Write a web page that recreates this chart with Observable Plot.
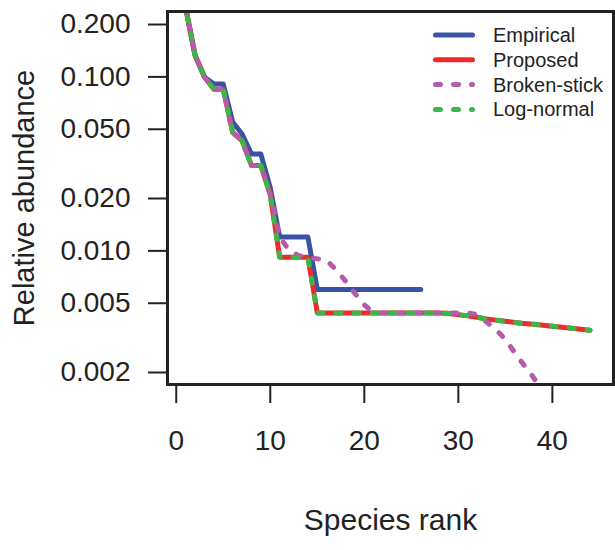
<!DOCTYPE html>
<html>
<head>
<meta charset="utf-8">
<script src="https://cdn.jsdelivr.net/npm/d3@7"></script>
<script src="https://cdn.jsdelivr.net/npm/@observablehq/plot@0.6"></script>
<style>
  body { margin: 0; background: #fff; }
  #wrap { position: relative; width: 615px; height: 550px; }
  #wrap svg.legend { position: absolute; left: 0; top: 0; pointer-events: none; }
</style>
</head>
<body>
<div id="wrap"></div>
<script>
// ---- data ----
const seriesNames = ["Empirical", "Proposed", "Broken-stick", "Log-normal"];
const seriesColors = ["#3953a4", "#ee2a2a", "#b65aae", "#3db54a"];
const seriesDashed = [false, false, true, true];

const empirical = [0.25, 0.133, 0.100, 0.091, 0.091, 0.055, 0.047, 0.036, 0.036, 0.023,
  0.012, 0.012, 0.012, 0.012,
  0.006, 0.006, 0.006, 0.006, 0.006, 0.006, 0.006, 0.006, 0.006, 0.006, 0.006, 0.006];

const proposed = [0.25, 0.133, 0.100, 0.085, 0.085, 0.048, 0.043, 0.031, 0.031, 0.021,
  0.0092, 0.0092, 0.0092, 0.0092,
  0.0044, 0.0044, 0.0044, 0.0044, 0.0044, 0.0044, 0.0044, 0.0044, 0.0044, 0.0044, 0.0044, 0.0044, 0.0044, 0.0044,
  0.00437, 0.0043, 0.00423, 0.00415, 0.00406, 0.0040, 0.00394, 0.00388, 0.00383, 0.00379,
  0.00374, 0.00369, 0.00364, 0.00359, 0.00354, 0.0035];

const brokenStick = [0.25, 0.133, 0.100, 0.085, 0.085, 0.048, 0.043, 0.031, 0.031, 0.021,
  0.012, 0.0101, 0.0094, 0.0092, 0.0090, 0.0088, 0.0078, 0.0067, 0.0057, 0.0049,
  0.0044, 0.0044, 0.0044, 0.0044, 0.0044, 0.0044, 0.0044, 0.0044, 0.0044, 0.0044, 0.0044,
  0.0043, 0.0039, 0.00353, 0.0031, 0.0026, 0.0022, 0.00187, 0.00154, 0.0012];

const logNormal = [0.25, 0.133, 0.100, 0.085, 0.085, 0.048, 0.043, 0.031, 0.031, 0.021,
  0.0092, 0.0092, 0.0092, 0.0092,
  0.0044, 0.0044, 0.0044, 0.0044, 0.0044, 0.0044, 0.0044, 0.0044, 0.0044, 0.0044, 0.0044, 0.0044, 0.0044, 0.0044,
  0.00437, 0.0043, 0.00423, 0.00415, 0.00406, 0.0040, 0.00394, 0.00388, 0.00383, 0.00379,
  0.00374, 0.00369, 0.00364, 0.00359, 0.00354, 0.0035];

const xTicks = [0, 10, 20, 30, 40];
const yTicks = [0.002, 0.005, 0.01, 0.02, 0.05, 0.1, 0.2];
const xTitle = "Species rank";
const yTitle = "Relative abundance";

// ---- build ----
const valuesBySeries = [empirical, proposed, brokenStick, logNormal];
const rows = valuesBySeries.flatMap((vals, s) =>
  vals.map((v, i) => ({series: seriesNames[s], rank: i + 1, value: v})));

const font = '"Liberation Sans", Arial, Helvetica, sans-serif';
const ink = "#222";

const lineMarks = seriesNames.map((name, s) =>
  Plot.line(rows.filter(d => d.series === name), {
    x: "rank", y: "value",
    stroke: seriesColors[s], strokeWidth: 5,
    strokeLinecap: "round", strokeLinejoin: "round",
    strokeDasharray: seriesDashed[s] ? "5,13" : undefined,
    strokeDashoffset: s === 3 ? 9 : 0,
    clip: true
  }));

const chart = Plot.plot({
  width: 615, height: 550,
  marginLeft: 167, marginRight: 2, marginTop: 11, marginBottom: 166,
  x: {domain: [-0.93, 46.5]},
  y: {type: "log", domain: [0.001706, 0.2376]},
  style: {fontFamily: font, color: ink, background: "white"},
  marks: [
    ...lineMarks,
    Plot.frame({stroke: ink, strokeWidth: 3}),
    Plot.axisX(xTicks, {tickSize: 19, tickPadding: 27, fontSize: 28, strokeWidth: 2, label: null}),
    Plot.axisY(yTicks, {tickSize: 19, tickPadding: 18, fontSize: 28, strokeWidth: 2,
      tickFormat: d3.format(".3f"), label: null}),
    Plot.text([xTitle], {text: d => d, frameAnchor: "bottom", dy: 145, fontSize: 30, fill: ink}),
    Plot.text([yTitle], {text: d => d, frameAnchor: "left", textAnchor: "middle",
      dx: -143, rotate: -90, fontSize: 29, fill: ink})
  ]
});

const wrap = document.getElementById("wrap");
wrap.appendChild(chart);

// ---- legend overlay (top right, inside the plot box, no border) ----
const leg = d3.select(wrap).append("svg")
  .attr("class", "legend").attr("width", 615).attr("height", 550);
const items = leg.selectAll("g").data(seriesNames).join("g")
  .attr("transform", (d, i) => `translate(0,${35 + i * 24.8})`);
items.append("line")
  .attr("x1", 435.5).attr("x2", 472.5)
  .attr("stroke", (d, i) => seriesColors[i])
  .attr("stroke-width", 5)
  .attr("stroke-linecap", "round")
  .attr("stroke-dasharray", (d, i) => seriesDashed[i] ? "5,13" : null);
items.append("text")
  .attr("x", 493).attr("dy", "0.35em")
  .attr("font-family", font).attr("font-size", 20).attr("fill", ink)
  .text(d => d);
</script>
</body>
</html>
